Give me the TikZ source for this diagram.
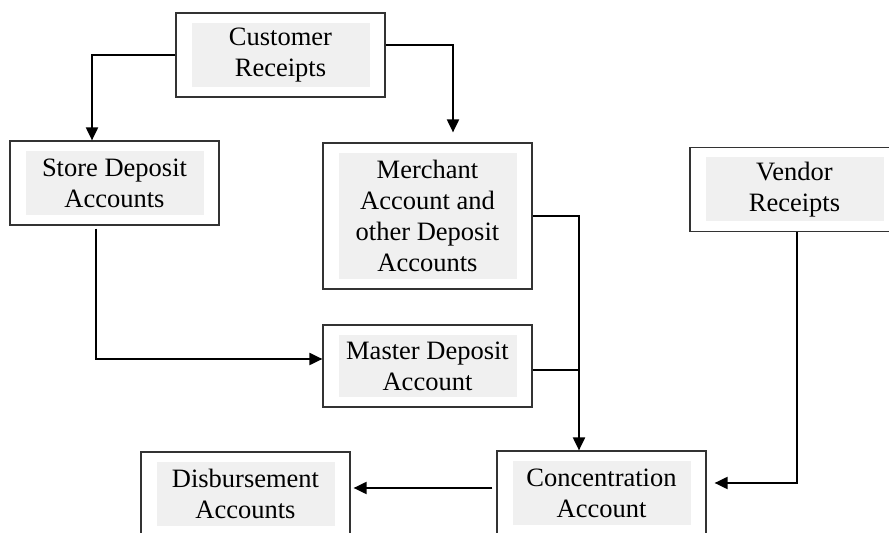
\documentclass[tikz,border=0pt]{standalone}
\usepackage{fontspec}
\setmainfont{Liberation Serif}
\usetikzlibrary{arrows.meta,calc}
\definecolor{insetgray}{HTML}{F0F0F0}

\begin{document}
\begin{tikzpicture}[x=0.5pt, y=-0.5pt,
  every node/.style={font=\fontsize{13.25}{15.4}\selectfont},
  acct/.style={draw=black!80, line width=0.6pt, minimum width=104.5pt, inner sep=0pt},
  inset/.style={fill=insetgray, minimum width=89pt, inner sep=0pt, align=center},
  flow/.style={line width=1pt, -{Triangle[length=6.5pt,width=6pt]}},
  link/.style={line width=1pt}]
  \useasboundingbox (0,0) rectangle (889,533);
  \clip (0,0) rectangle (889,533);
  % account boxes: name/x/y/height/text
  \foreach \n/\x/\y/\h/\t in {cust/280.5/55/42/{Customer\\Receipts},
      store/114.5/183/42/{Store Deposit\\Accounts},
      merch/427.5/216/73/{Merchant\\Account and\\other Deposit\\Accounts},
      vend/794.5/189.5/42/{Vendor\\Receipts},
      mast/427.5/366/41/{Master Deposit\\Account},
      conc/601.5/493/42/{Concentration\\Account},
      disb/245.5/494/42/{Disbursement\\Accounts}} {
    \node[acct, minimum height=\h pt] (\n) at (\x,\y) {};
    \node[inset, minimum height=\h pt-10pt] at (\n) {\t};
  }
  \coordinate (j) at ($(conc.north)+(-22.5,0)$);
  \coordinate (m) at ($(mast.east)+(0,4)$);
  \draw[flow] (cust.west) -| ($(store.north)+(-22.5,0)$);
  \draw[flow, shorten >=5pt] ($(cust.east)+(0,-10)$) -| ($(merch.north)+(25.5,0)$);
  \draw[flow] ($(store.south)+(-19,3)$) |- ($(mast.west)+(0,-7)$);
  \draw[flow] (merch.east) -| (j);
  \draw[link] (m) -- (m -| j);
  \draw[flow, shorten >=4pt] ($(vend.south)+(2.5,0)$) |- ($(conc.east)+(0,-10)$);
  \draw[flow, shorten >=1.5pt] ($(conc.west)+(-4,-5)$) -- ($(disb.east)+(0,-6)$);
\end{tikzpicture}
\end{document}
